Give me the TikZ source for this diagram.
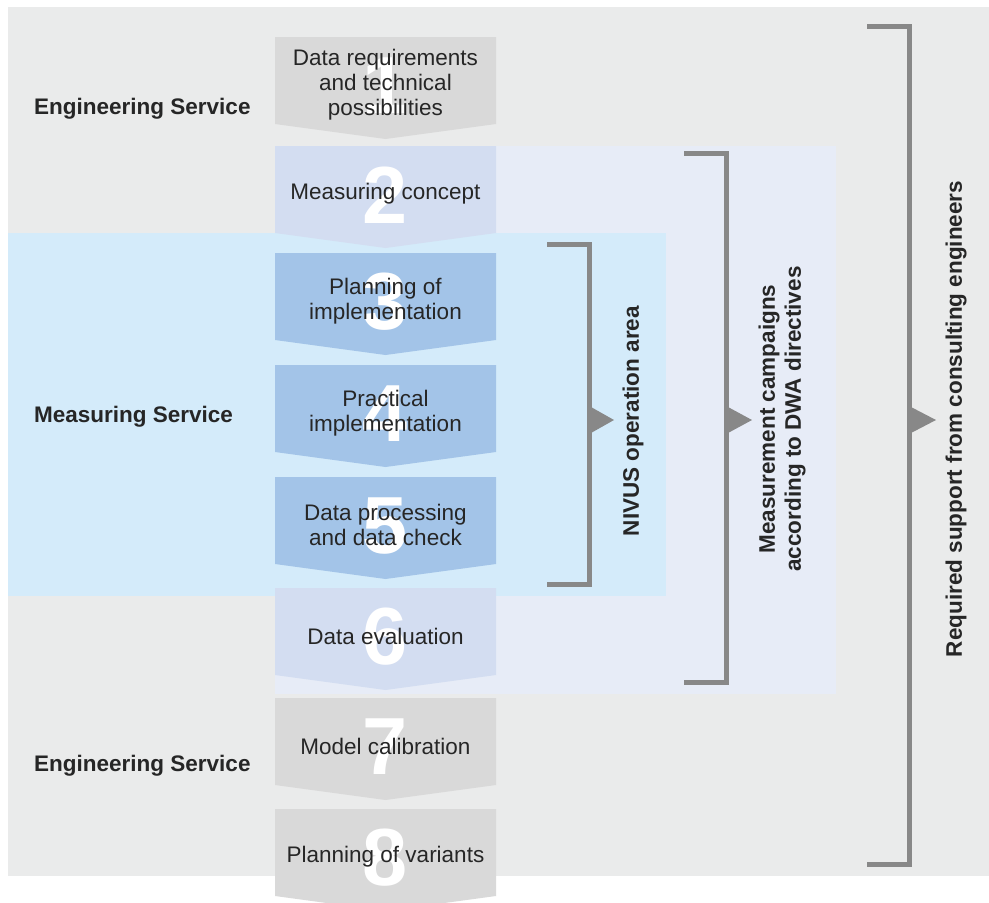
\documentclass[tikz,border=0pt]{standalone}
\usepackage{fontspec}
\setmainfont{Liberation Sans}
\usepackage{tikz}
\definecolor{nvback}{HTML}{EAEBEB}
\definecolor{nvlav}{HTML}{E7ECF7}
\definecolor{nvsky}{HTML}{D4EBFA}
\definecolor{nvgrey}{HTML}{D9D9D9}
\definecolor{nvlila}{HTML}{D3DDF1}
\definecolor{nvblue}{HTML}{A3C4E8}
\definecolor{nvbrk}{HTML}{888888}
\definecolor{nvtxt}{HTML}{262626}
\tikzset{
  steptxt/.style={align=center,text=nvtxt,inner sep=0pt,font=\fontsize{22.5}{25}\selectfont},
  stepnum/.style={text=white,inner sep=0pt,font=\fontsize{81}{81}\selectfont\bfseries},
  sidetxt/.style={text=nvtxt,inner sep=0pt,align=center,font=\fontsize{22.5}{26}\selectfont\bfseries},
  bracket/.style={nvbrk,line width=5pt,line join=miter},
}

\begin{document}
\begin{tikzpicture}[x=1pt,y=-1pt]
  \useasboundingbox (0,0) rectangle (989,903);
  \fill[nvback] (8,7) rectangle (989,876);
  \fill[nvlav] (275,146) rectangle (836,694);
  \fill[nvsky] (8,233) rectangle (666,596);
  \foreach \i/\t/\c/\s in {1/37/nvgrey/{Data requirements\\and technical\\possibilities},
      2/146/nvlila/{Measuring concept},3/253/nvblue/{Planning of\\implementation},
      4/365/nvblue/{Practical\\implementation},5/477/nvblue/{Data processing\\and data check},
      6/588/nvlila/{Data evaluation},7/698/nvgrey/{Model calibration},
      8/809/nvgrey/{Planning of variants}}{
    \fill[\c] (275,\t) -- (496,\t) -- (496,\t+87) -- (385.5,\t+102) -- (275,\t+87) -- cycle;
    \node[stepnum] (n\i) at (385.5,\t+49) {\i};
    \node[steptxt] (s\i) at (385.5,\t+48) {\s};
  }
  \node[sidetxt,anchor=west] (eng1) at (34,109) {Engineering Service};
  \node[sidetxt,anchor=west] (meas) at (34,417) {Measuring Service};
  \node[sidetxt,anchor=west] (eng2) at (34,766) {Engineering Service};
  \draw[bracket] (547,244) -- (589,244) -- (589,584) -- (547,584);
  \fill[nvbrk] (591,407) -- (614,420) -- (591,433) -- cycle;
  \draw[bracket] (684,153) -- (726.5,153) -- (726.5,682) -- (684,682);
  \fill[nvbrk] (728,407) -- (752,420) -- (728,433) -- cycle;
  \draw[bracket] (867,26) -- (909.5,26) -- (909.5,864) -- (867,864);
  \fill[nvbrk] (911,407) -- (936,420) -- (911,433) -- cycle;
  \node[sidetxt,rotate=90] (nivus) at (633,421) {NIVUS operation area};
  \node[sidetxt,rotate=90] (dwa) at (782,419) {Measurement campaigns\\according to DWA directives};
  \node[sidetxt,rotate=90] (cons) at (956,419) {Required support from consulting engineers};
\end{tikzpicture}
\end{document}
